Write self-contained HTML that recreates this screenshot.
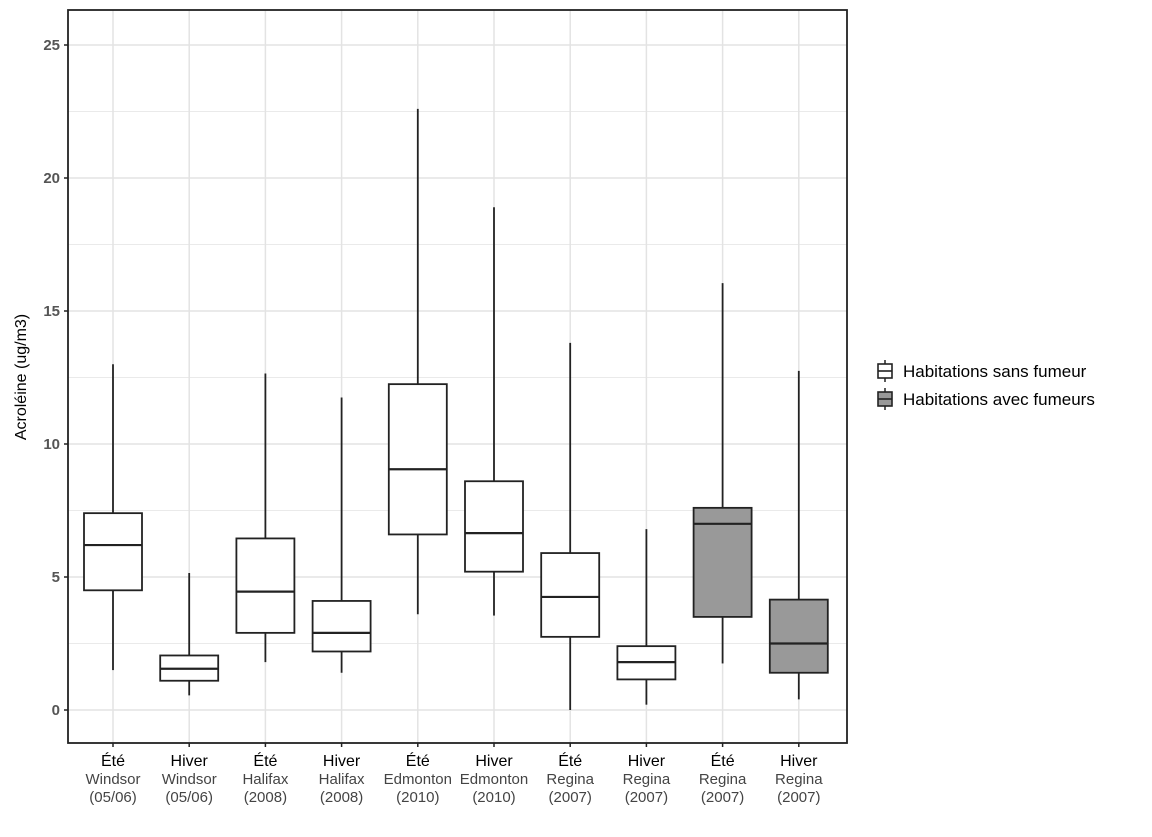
<!DOCTYPE html>
<html><head><meta charset="utf-8"><style>
body{margin:0;background:#fff;width:1152px;height:837px;overflow:hidden}
svg{display:block}
</style></head><body>
<svg id="chart" width="1152" height="837" xmlns="http://www.w3.org/2000/svg"></svg>
<script>
const cats1 = ["Été","Hiver","Été","Hiver","Été","Hiver","Été","Hiver","Été","Hiver"];
const cats2 = ["Windsor","Windsor","Halifax","Halifax","Edmonton","Edmonton","Regina","Regina","Regina","Regina"];
const cats3 = ["(05/06)","(05/06)","(2008)","(2008)","(2010)","(2010)","(2007)","(2007)","(2007)","(2007)"];
const whiskLow = [1.5,0.55,1.8,1.4,3.6,3.55,0,0.2,1.75,0.4];
const q1 = [4.5,1.1,2.9,2.2,6.6,5.2,2.75,1.15,3.5,1.4];
const medians = [6.2,1.55,4.45,2.9,9.05,6.65,4.25,1.8,7.0,2.5];
const q3 = [7.4,2.05,6.45,4.1,12.25,8.6,5.9,2.4,7.6,4.15];
const whiskHigh = [13,5.15,12.65,11.75,22.6,18.9,13.8,6.8,16.05,12.75];
const smokers = [false,false,false,false,false,false,false,false,true,true];
const yTicks = [0,5,10,15,20,25];

const svg = document.getElementById('chart');
const NS = "http://www.w3.org/2000/svg";
const L=68,R=847,T=10,B=743;
const y = v => 710 - v*26.6;
const x = i => 113 + i*76.2;
function mk(tag, attrs, parent){const e=document.createElementNS(NS,tag);for(const k in attrs)e.setAttribute(k,attrs[k]);(parent||svg).appendChild(e);return e;}

const grid = mk('g',{});


for(let v=0; v<=25; v+=2.5){mk('line',{x1:L,x2:R,y1:y(v),y2:y(v),stroke:'#e3e3e3','stroke-width':v%5===0?1.5:0.8},grid);}
cats1.forEach((c,i)=>mk('line',{x1:x(i),x2:x(i),y1:T,y2:B,stroke:'#e3e3e3','stroke-width':1.5},grid));

cats1.forEach((c,i)=>{
  const g = mk('g',{});
  
  
  const cx=x(i), w=29;
  mk('line',{x1:cx,x2:cx,y1:y(whiskHigh[i]),y2:y(q3[i]),stroke:'#222','stroke-width':1.8},g);
  mk('line',{x1:cx,x2:cx,y1:y(q1[i]),y2:y(whiskLow[i]),stroke:'#222','stroke-width':1.8},g);
  mk('rect',{x:cx-w,y:y(q3[i]),width:2*w,height:y(q1[i])-y(q3[i]),fill:smokers[i]?'#999':'#fff',stroke:'#222','stroke-width':1.8},g);
  mk('line',{x1:cx-w,x2:cx+w,y1:y(medians[i]),y2:y(medians[i]),stroke:'#222','stroke-width':2.2},g);
});

const fr = mk('rect',{x:L,y:T,width:R-L,height:B-T,fill:'none',stroke:'#222','stroke-width':1.8});



yTicks.forEach(v=>{
  mk('line',{x1:L-4,x2:L,y1:y(v),y2:y(v),stroke:'#222','stroke-width':1.5});
  const t = mk('text',{x:L-8,y:y(v)+5,'text-anchor':'end','font-family':'Liberation Sans, sans-serif','font-size':15,'font-weight':'bold',fill:'#555'});
  
  
  t.textContent=v;
});
const yt = mk('text',{x:0,y:0,transform:'translate(26,377) rotate(-90)','text-anchor':'middle','font-family':'Liberation Sans, sans-serif','font-size':16,fill:'#000'});


yt.textContent='Acroléine  (ug/m3)';

cats1.forEach((c,i)=>{
  mk('line',{x1:x(i),x2:x(i),y1:B,y2:B+4,stroke:'#222','stroke-width':1.5});
  const g = mk('g',{});
  
  
  const a = mk('text',{x:x(i),y:766,'text-anchor':'middle','font-family':'Liberation Sans, sans-serif','font-size':16,fill:'#000'},g); a.textContent=c;
  const b = mk('text',{x:x(i),y:784,'text-anchor':'middle','font-family':'Liberation Sans, sans-serif','font-size':15,fill:'#444'},g); b.textContent=cats2[i];
  const d = mk('text',{x:x(i),y:802,'text-anchor':'middle','font-family':'Liberation Sans, sans-serif','font-size':15,fill:'#444'},g); d.textContent=cats3[i];
});

const leg = mk('g',{});


[["Habitations sans fumeur","#fff",371],["Habitations avec fumeurs","#999",399]].forEach(([lab,col,cy])=>{
  const e = mk('g',{},leg);
  
  
  mk('line',{x1:885,x2:885,y1:cy-11,y2:cy+11,stroke:'#222','stroke-width':1.5},e);
  mk('rect',{x:878,y:cy-7,width:14,height:14,fill:col,stroke:'#222','stroke-width':1.6},e);
  mk('line',{x1:878,x2:892,y1:cy,y2:cy,stroke:'#222','stroke-width':1.6},e);
  const t = mk('text',{x:903,y:cy+6,'font-family':'Liberation Sans, sans-serif','font-size':17,fill:'#000'},e); t.textContent=lab;
});
</script>
</body></html>
